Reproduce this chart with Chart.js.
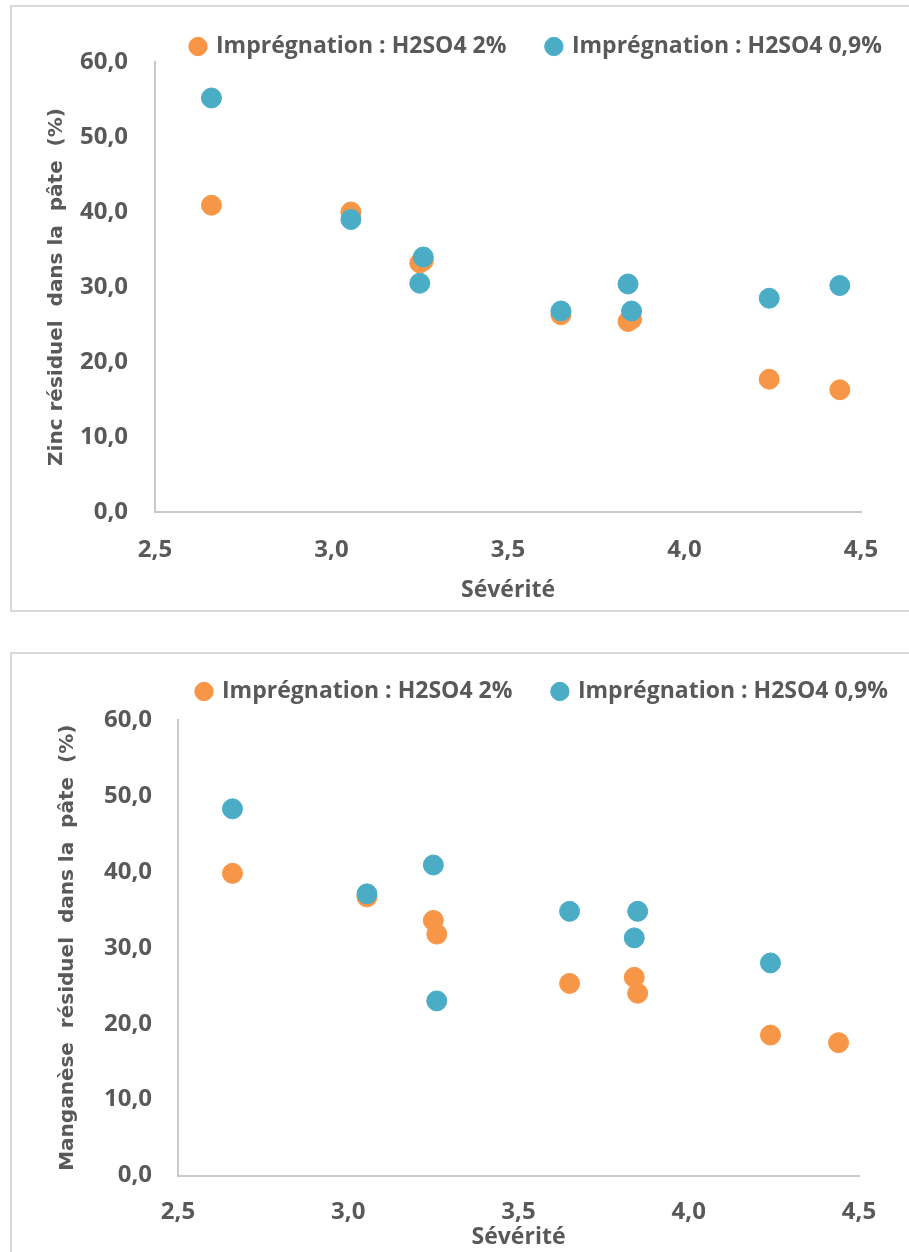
<!DOCTYPE html>
<html lang="fr">
<head>
<meta charset="UTF-8">
<title>Zinc et manganèse résiduels</title>
<script src="https://cdn.jsdelivr.net/npm/chart.js"></script>
<style>
  body { margin: 0; width: 909px; height: 1252px; overflow: hidden; background: #fff; }
  .box { position: absolute; border: 2px solid #d9d9d9; box-sizing: border-box; }
  canvas { position: absolute; left: 0; }
</style>
</head>
<body>
<div class="box" style="left:10px; top:5px; width:920px; height:607px;"></div>
<div class="box" style="left:10px; top:652px; width:920px; height:700px;"></div>
<canvas id="zincChart" width="909" height="620" style="top:0"></canvas>
<canvas id="mnChart" width="909" height="660" style="top:620px"></canvas>

<script>
// sévérité (shared x values)
const severite = [2.66, 3.055, 3.25, 3.26, 3.65, 3.84, 3.85, 4.24, 4.44];

// zinc résiduel (%)
const zincH2SO4_2 = [40.9, 40.0, 33.2, 33.5, 26.3, 25.4, 25.7, 17.7, 16.3];
const zincH2SO4_09 = [55.2, 39.0, 30.5, 34.0, 26.8, 30.4, 26.8, 28.5, 30.2];

// manganèse résiduel (%)
const mnH2SO4_2 = [39.8, 36.7, 33.6, 31.8, 25.3, 26.1, 24.0, 18.5, 17.5];
const mnH2SO4_09 = [48.3, 37.1, 40.9, 23.0, 34.8, 31.3, 34.8, 28.0, null];

const seriesLabels = ['Imprégnation : H2SO4 2%', 'Imprégnation : H2SO4 0,9%'];
const yTicks = [0, 10, 20, 30, 40, 50, 60];
const xTicks = [2.5, 3.0, 3.5, 4.0, 4.5];

const ORANGE = '#f79646';
const BLUE = '#4bacc6';
const TEXT = '#595959';
const tickFont = { family: 'Open Sans', weight: 'bold', size: 24 };
const legendFont = { family: 'Open Sans', weight: 'bold', size: 23 };

function points(ys) {
    return severite.map((x, i) => ({ x: x, y: ys[i] })).filter(p => p.y !== null);
}

function fr(v) {
    return Number(v).toFixed(1).replace('.', ',');
}

// pushes the legend where Excel put it and fixes its height
function legendPlacer(left, height) {
    return {
        id: 'legendPlacer',
        beforeInit(chart) {
            const fit = chart.legend.fit;
            chart.legend.fit = function () {
                fit.call(this);
                this.height = height;
            };
        },
        afterLayout(chart) {
            chart.legend.left = left;
            chart.legend.right = chart.width + 200; // keep both items on one row
        }
    };
}

function makeChart(id, s1, s2, yTitle, lay) {
    const ctx = document.getElementById(id).getContext('2d');
    return new Chart(ctx, {
        type: 'scatter',
        data: {
            datasets: [
                { label: seriesLabels[0], data: points(s1), backgroundColor: ORANGE, borderColor: ORANGE,
                  pointRadius: 10, pointHoverRadius: 10, order: 2 },
                { label: seriesLabels[1], data: points(s2), backgroundColor: BLUE, borderColor: BLUE,
                  pointRadius: 10, pointHoverRadius: 10, order: 1 }
            ]
        },
        options: {
            responsive: false,
            devicePixelRatio: 1,
            animation: false,
            layout: { padding: lay.padding },
            plugins: {
                tooltip: { enabled: false },
                legend: {
                    position: 'top',
                    align: 'start',
                    labels: {
                        usePointStyle: true,
                        pointStyle: 'circle',
                        boxWidth: 13,
                        boxHeight: 13,
                        padding: 41,
                        color: TEXT,
                        font: legendFont,
                        sort: (a, b) => a.datasetIndex - b.datasetIndex
                    }
                }
            },
            scales: {
                x: {
                    type: 'linear',
                    min: xTicks[0],
                    max: xTicks[xTicks.length - 1],
                    afterBuildTicks: (scale) => { scale.ticks = xTicks.map(v => ({ value: v })); },
                    afterFit: (scale) => { scale.height = lay.xHeight; },
                    ticks: { color: TEXT, font: tickFont, padding: lay.xPad, callback: fr },
                    grid: { display: false, drawTicks: false },
                    border: { display: true, color: '#c9c9c9', width: 2 },
                    title: { display: true, text: 'Sévérité', color: TEXT,
                             font: { family: 'Open Sans', weight: 'bold', size: 23 },
                             padding: { top: 4, bottom: 4 } }
                },
                y: {
                    min: yTicks[0],
                    max: yTicks[yTicks.length - 1],
                    afterBuildTicks: (scale) => { scale.ticks = yTicks.map(v => ({ value: v })); },
                    afterFit: (scale) => { scale.width = lay.yWidth; },
                    ticks: { color: TEXT, font: tickFont, padding: lay.yPad, callback: fr },
                    grid: { display: false, drawTicks: false },
                    border: { display: true, color: '#c9c9c9', width: 2 },
                    title: { display: true, text: yTitle, color: TEXT,
                             font: { family: 'DejaVu Sans', weight: 'bold', size: 20 },
                             padding: { top: lay.yTitlePad, bottom: 0 } }
                }
            }
        },
        plugins: [legendPlacer(lay.legendLeft, lay.legendHeight)]
    });
}

makeChart('zincChart', zincH2SO4_2, zincH2SO4_09, 'Zinc résiduel  dans la  pâte  (%)', {
    padding: { top: -6, right: 48, bottom: 12, left: 0 },
    legendLeft: 150.5, legendHeight: 68,
    xHeight: 96, xPad: 24,
    yWidth: 155, yPad: 27, yTitlePad: 45
});

makeChart('mnChart', mnH2SO4_2, mnH2SO4_09, 'Manganèse  résiduel  dans la  pâte  (%)', {
    padding: { top: 19, right: 50, bottom: 25, left: 0 },
    legendLeft: 156.5, legendHeight: 81,
    xHeight: 79.5, xPad: 22,
    yWidth: 178, yPad: 26, yTitlePad: 56
});
</script>
</body>
</html>
